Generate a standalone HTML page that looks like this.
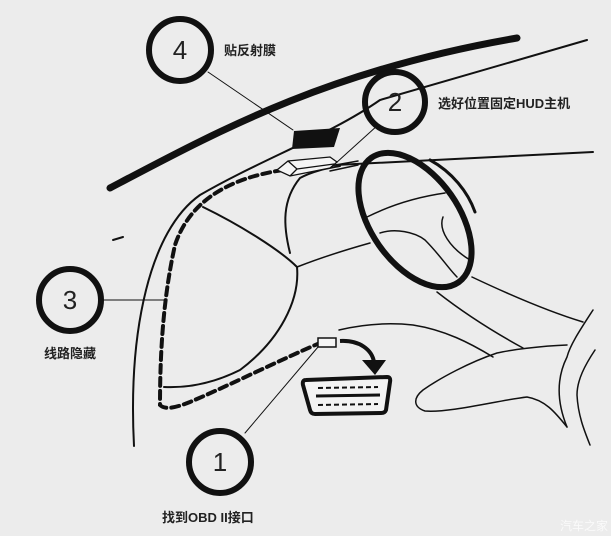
<!DOCTYPE html>
<html><head><meta charset="utf-8"><style>
html,body{margin:0;padding:0;background:#ececec;}
svg{display:block}
text{font-family:"Liberation Sans","Noto Sans CJK SC",sans-serif;fill:#222}
</style></head><body>
<svg width="611" height="536" viewBox="0 0 611 536" xmlns="http://www.w3.org/2000/svg">
<rect width="611" height="536" fill="#ececec"/>
<g fill="none" stroke="#111" stroke-linecap="round">
<path d="M110,188 C220,130 330,70 517,38" stroke-width="7"/>
<path d="M134,446 C128,330 150,230 200,195 C260,160 330,135 380,100 L587,40" stroke-width="2"/>
<path d="M113,240 L123,237" stroke-width="2"/>
<path d="M336,165 L593,152" stroke-width="2"/>
<path d="M330,166 L358,161 M330,171 L358,165" stroke-width="1.5"/>
<path d="M290,253 C283,225 282,200 300,178 C315,170 330,168 340,166" stroke-width="2"/>
<path d="M203,207 C240,225 280,250 297,267 C300,300 280,340 240,370 C210,385 185,388 164,387" stroke-width="2"/>
<path d="M297,267 C320,258 345,250 370,243" stroke-width="1.5"/>
<path d="M367,217 C385,208 410,198 445,193" stroke-width="1.5"/>
<path d="M380,233 C395,228 415,232 425,240 C440,255 448,268 457,277" stroke-width="1.5"/>
<path d="M443,217 C438,230 450,248 470,260" stroke-width="1.5"/>
<path d="M437,292 C460,310 490,330 523,348" stroke-width="1.5"/>
<path d="M472,277 C510,295 550,312 583,322" stroke-width="1.5"/>
<path d="M339,330 C360,325 385,322 413,325 C445,330 470,343 493,357" stroke-width="1.5"/>
<path d="M567,345 C540,346 510,350 497,353 C470,362 440,378 423,390 C413,398 413,407 425,411 C450,413 500,400 527,397 C545,400 555,412 567,427" stroke-width="1.5"/>
<path d="M593,310 C580,330 570,345 567,357 C557,377 556,400 567,427" stroke-width="1.5"/>
<path d="M595,350 C585,365 577,380 577,395 C578,415 584,430 590,445" stroke-width="1.5"/>
<ellipse cx="415" cy="220" rx="76" ry="44" transform="rotate(55 415 220)" stroke-width="6"/>
<path d="M430,160 C452,172 468,192 475,212" stroke-width="3"/>
<path d="M283,170 C230,178 190,200 175,245 C165,290 160,340 160,405 C165,410 175,408 190,402 C230,385 280,360 320,343" stroke-width="4" stroke-dasharray="8,5"/>
<path d="M208,72 L293,130" stroke-width="1"/>
<path d="M378,125 L336,163" stroke-width="1"/>
<path d="M104,300 L165,300" stroke-width="1"/>
<path d="M245,433 L318,347" stroke-width="1"/>
<circle cx="180" cy="50" r="31" stroke-width="6"/>
<circle cx="395" cy="102" r="30" stroke-width="6"/>
<circle cx="70" cy="300" r="31" stroke-width="6"/>
<circle cx="220" cy="462" r="31" stroke-width="6"/>
</g>
<polygon points="294,131 340,128 334,147 292,149" fill="#111"/>
<g fill="#f5f5f5" stroke="#111" stroke-width="1.3">
<polygon points="277,170 288,161 330,157 337,162 330,168 290,176"/>
<path d="M288,161 L297,169 L290,176 M297,169 L334,164" fill="none"/>
</g>
<rect x="318" y="338" width="18" height="9" fill="#f5f5f5" stroke="#111" stroke-width="1.5"/>
<path d="M340,341 C360,340 372,350 374,362" fill="none" stroke="#111" stroke-width="4"/>
<polygon points="362,360 386,360 375,375" fill="#111"/>
<path d="M306,380 L387,377 Q391,377 390,382 L386,410 Q385,413 381,413 L315,414 Q311,414 310,410 L303,385 Q302,380 306,380 Z" fill="#f3f3f3" stroke="#111" stroke-width="4"/>
<path d="M318,388 L378,387 M318,405 L378,404" stroke="#111" stroke-width="2" stroke-dasharray="5,3"/>
<path d="M316,396 L380,395" stroke="#111" stroke-width="3"/>
<g font-size="26" text-anchor="middle">
<text x="180" y="59">4</text>
<text x="395" y="111">2</text>
<text x="70" y="309">3</text>
<text x="220" y="471">1</text>
</g>
<g font-size="13" font-weight="bold" fill="#333">
<text x="224" y="55">贴反射膜</text>
<text x="438" y="108">选好位置固定HUD主机</text>
<text x="70" y="358" text-anchor="middle">线路隐藏</text>
<text x="162" y="522">找到OBD II接口</text>
</g>
<text x="560" y="530" font-size="12" style="fill:#fafafa">汽车之家</text>
</svg>
</body></html>
